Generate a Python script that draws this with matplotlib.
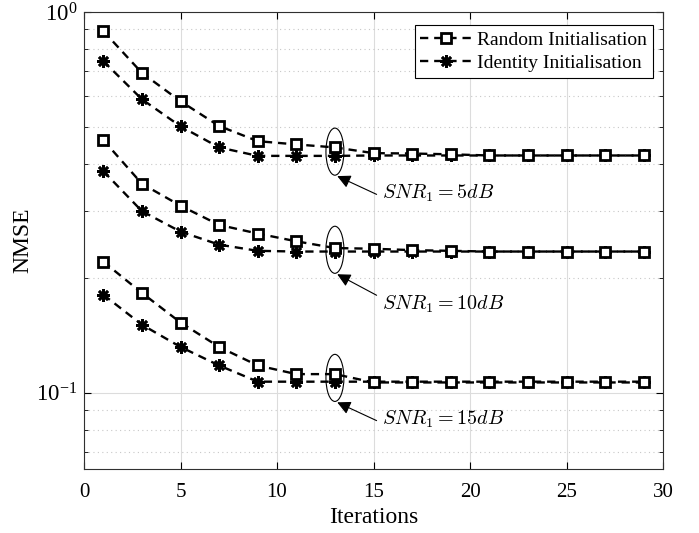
import numpy as np
import matplotlib
matplotlib.use("Agg")
import matplotlib.pyplot as plt
from matplotlib.patches import Ellipse
from matplotlib.ticker import FixedLocator, FixedFormatter, NullFormatter, LogLocator

plt.rcParams["font.family"] = ["Liberation Serif", "DejaVu Serif"]
plt.rcParams["mathtext.fontset"] = "cm"

iterations = [1, 3, 5, 7, 9, 11, 13, 15, 17, 19, 21, 23, 25, 27, 29]

random_5db = [0.891, 0.692, 0.583, 0.502, 0.458, 0.449, 0.441, 0.426, 0.425, 0.423,
              0.420, 0.420, 0.420, 0.420, 0.420]
identity_5db = [0.743, 0.590, 0.501, 0.441, 0.419, 0.419, 0.419, 0.420, 0.420, 0.420,
                0.420, 0.420, 0.420, 0.420, 0.420]
random_10db = [0.461, 0.354, 0.310, 0.276, 0.262, 0.250, 0.240, 0.239, 0.237, 0.236,
               0.235, 0.235, 0.235, 0.235, 0.235]
identity_10db = [0.382, 0.300, 0.265, 0.245, 0.236, 0.235, 0.235, 0.235, 0.235, 0.235,
                 0.235, 0.235, 0.235, 0.235, 0.235]
random_15db = [0.221, 0.183, 0.153, 0.132, 0.118, 0.112, 0.112, 0.1065, 0.1065, 0.1065,
               0.1065, 0.1065, 0.1065, 0.1065, 0.1065]
identity_15db = [0.181, 0.151, 0.132, 0.118, 0.107, 0.107, 0.107, 0.107, 0.107, 0.107,
                 0.107, 0.107, 0.107, 0.107, 0.107]

snr_labels = [r"$SNR_1 = 5dB$", r"$SNR_1 = 10dB$", r"$SNR_1 = 15dB$"]
ellipse_x = 13

fig = plt.figure(figsize=(6.99, 5.33), dpi=100)
ax = fig.add_axes([0.1202, 0.12, 0.8283, 0.8575])

line_kw = dict(color="k", linestyle=(0, (3.5, 2.5)), linewidth=1.7)
sq_kw = dict(marker="s", markersize=6.5, markerfacecolor="white", markeredgecolor="k",
             markeredgewidth=2.0)
st_kw = dict(marker=(8, 2, 0), markersize=9, markeredgecolor="k", markeredgewidth=1.9)

pairs = [(random_5db, identity_5db), (random_10db, identity_10db), (random_15db, identity_15db)]
for i, (rnd, idt) in enumerate(pairs):
    ax.plot(iterations, idt, label="Identity Initialisation" if i == 0 else None,
            **line_kw, **st_kw, zorder=3)
    ax.plot(iterations, rnd, label="Random Initialisation" if i == 0 else None,
            **line_kw, **sq_kw, zorder=4)

ymin, ymax = 10 ** -1.2, 1.0
ax.set_yscale("log")
ax.set_xlim(0, 30)
ax.set_ylim(ymin, ymax)

ax.yaxis.set_major_locator(FixedLocator([0.1, 1.0]))
ax.yaxis.set_major_formatter(FixedFormatter([r"$\mathregular{10^{-1}}$", r"$\mathregular{10^{0}}$"]))
ax.yaxis.set_minor_locator(LogLocator(base=10, subs=np.arange(2, 10)))
ax.yaxis.set_minor_formatter(NullFormatter())
ax.set_xticks([0, 5, 10, 15, 20, 25, 30])

ax.tick_params(which="both", direction="in", top=True, right=True, labelsize=15)
ax.tick_params(which="major", length=5)
ax.tick_params(which="minor", length=3)
ax.tick_params(axis="x", pad=10)
ax.tick_params(axis="y", pad=5, labelsize=16.5)
ax.grid(which="major", color="#dcdcdc", linestyle="-", linewidth=0.8)
ax.grid(which="minor", axis="y", color="#c8c8c8", linestyle=(0, (1, 3)), linewidth=0.8)
ax.set_axisbelow(True)
for sp in ax.spines.values():
    sp.set_linewidth(0.8)
    sp.set_color("#303030")

ax.set_xlabel("Iterations", fontsize=17, labelpad=4)
ax.set_ylabel("NMSE", fontsize=17, labelpad=2)

handles, labels = ax.get_legend_handles_labels()
order = [labels.index("Random Initialisation"), labels.index("Identity Initialisation")]
leg = ax.legend([handles[k] for k in order], [labels[k] for k in order],
                loc="upper right", bbox_to_anchor=(0.982, 0.971), fontsize=14,
                fancybox=False, framealpha=1, edgecolor="k", handlelength=2.6,
                handletextpad=0.3, borderpad=0.3, labelspacing=0.3, borderaxespad=0)
leg.get_frame().set_linewidth(0.8)

# ellipses and arrows, positioned in axes fraction
lmin, lmax = np.log10(ymin), np.log10(ymax)
def yfrac(v):
    return (np.log10(v) - lmin) / (lmax - lmin)

tail_dy = [0.042, 0.048, 0.042]
text_dy = [0.040, 0.068, 0.040]

idx = iterations.index(ellipse_x)
xf = ellipse_x / 30
for (rnd, idt), label, tdy, ldy in zip(pairs, snr_labels, tail_dy, text_dy):
    yc = yfrac(np.sqrt(rnd[idx] * idt[idx]))
    h = 0.103
    ax.add_patch(Ellipse((xf, yc), 0.031, h, transform=ax.transAxes, fill=False,
                         edgecolor="k", linewidth=0.8, zorder=5))
    ax.annotate("", xy=(xf + 0.004, yc - h / 2 - 0.002), xycoords="axes fraction",
                xytext=(xf + 0.072, yc - h / 2 - tdy), textcoords="axes fraction",
                arrowprops=dict(arrowstyle="-|>", color="k", lw=0.8, mutation_scale=20,
                                shrinkA=0, shrinkB=0), zorder=5)
    ax.text(xf + 0.082, yc - h / 2 - ldy, label, transform=ax.transAxes, fontsize=14.5,
            va="center", ha="left")

fig.savefig("out.png", dpi=100)
